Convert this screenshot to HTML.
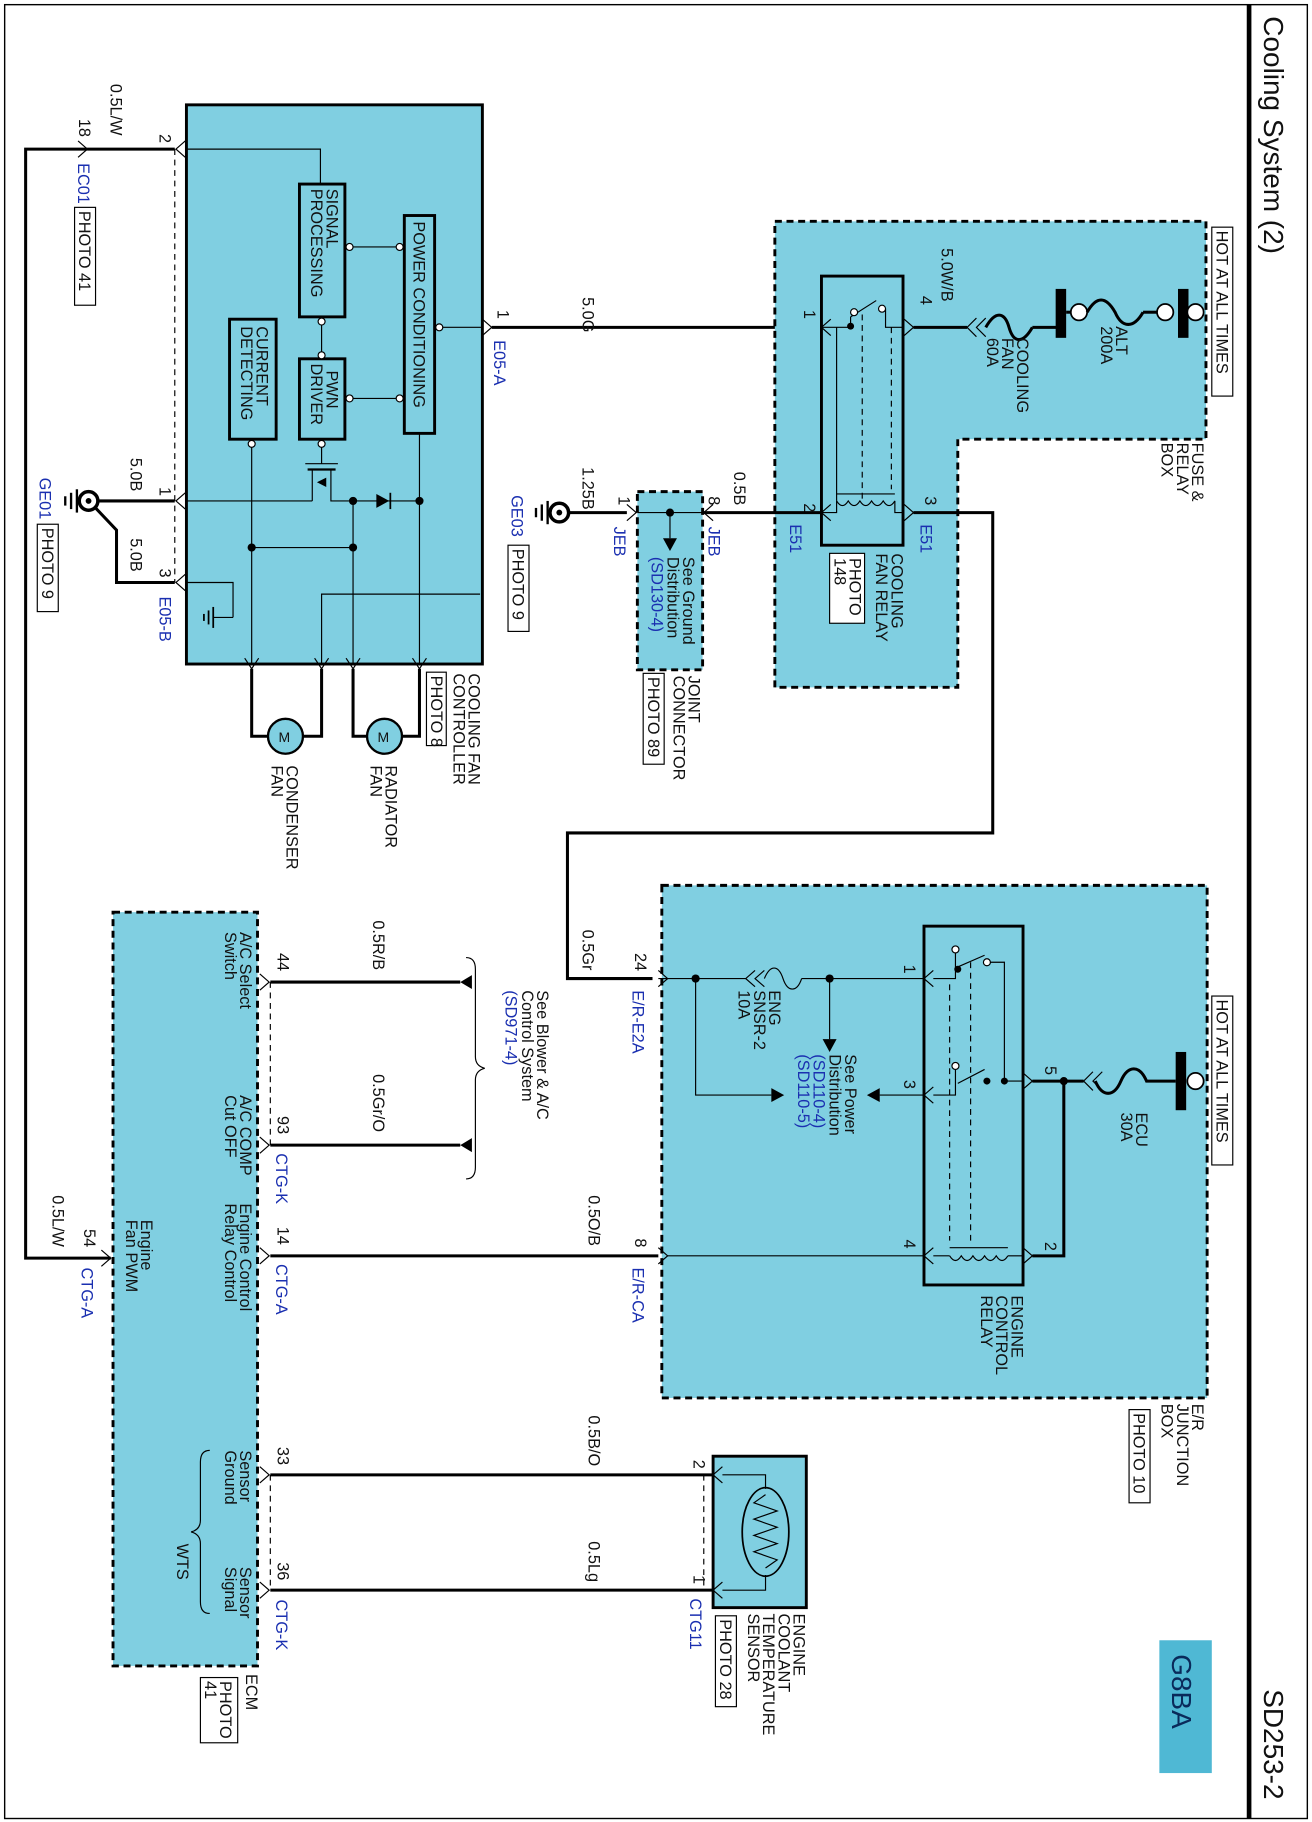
<!DOCTYPE html>
<html><head><meta charset="utf-8"><style>
html,body{margin:0;padding:0;background:#fff}
svg{display:block}
text{font-family:"Liberation Sans",sans-serif;font-size:14px;fill:#111}
.b{fill:#1a2fb0}
.w{stroke:#000;stroke-width:2.6;fill:none}
.t{stroke:#000;stroke-width:1;fill:none}
.d{stroke:#000;stroke-width:1;fill:none;stroke-dasharray:5,4}
.bx{fill:#80cfe1;stroke:#000;stroke-width:2.5}
.dbx{fill:#80cfe1;stroke:#000;stroke-width:2.5;stroke-dasharray:6,4}
.ib{fill:none;stroke:#000;stroke-width:2.5}
.pb{fill:#fff;stroke:#000;stroke-width:1}
</style></head><body>
<svg width="1312" height="1822" viewBox="0 0 1126 1564" preserveAspectRatio="none" xmlns="http://www.w3.org/2000/svg">
<rect x="4" y="4" width="1118" height="1557" fill="none" stroke="#000" stroke-width="1.2"/>
<line x1="1072" y1="4" x2="1072" y2="1561" stroke="#000" stroke-width="4"/>
<text transform="translate(1085,14) rotate(90)" style="font-size:24px">Cooling System (2)</text>
<text transform="translate(1085,1450) rotate(90)" style="font-size:24px">SD253-2</text>
<rect x="995" y="1408" width="45" height="114" fill="#4fb8d4"/>
<text transform="translate(1006,1420) rotate(90)" style="font-size:24px;fill:#0a2a5a">G8BA</text>

<!-- Cooling fan controller -->
<rect class="bx" x="160" y="90" width="254" height="480"/>
<rect class="ib" x="257" y="158" width="39" height="114"/>
<text transform="translate(280,162) rotate(90)">SIGNAL</text>
<text transform="translate(267,162) rotate(90)">PROCESSING</text>
<rect class="ib" x="347" y="185" width="26" height="187"/>
<text transform="translate(355,190) rotate(90)">POWER CONDITIONING</text>
<rect class="ib" x="257" y="308" width="39" height="69"/>
<text transform="translate(280,318) rotate(90)">PWN</text>
<text transform="translate(267,312) rotate(90)">DRIVER</text>
<rect class="ib" x="197" y="274" width="40" height="103"/>
<text transform="translate(220,280) rotate(90)">CURRENT</text>
<text transform="translate(207,280) rotate(90)">DETECTING</text>
<polyline class="t" points="160,128 275,128 275,158"/>
<line class="t" x1="300" y1="212" x2="343" y2="212"/><circle cx="300" cy="212" r="3" class="pb"/><circle cx="343" cy="212" r="3" class="pb"/>
<line class="t" x1="276" y1="276" x2="276" y2="305"/><circle cx="276" cy="276" r="3" class="pb"/><circle cx="276" cy="305" r="3" class="pb"/>
<line class="t" x1="300" y1="342" x2="343" y2="342"/><circle cx="300" cy="342" r="3" class="pb"/><circle cx="343" cy="342" r="3" class="pb"/>
<line class="t" x1="377" y1="281" x2="414" y2="281"/><circle cx="377" cy="281" r="3" class="pb"/>
<line class="t" x1="216" y1="381" x2="216" y2="570"/><circle cx="216" cy="381" r="3" class="pb"/>
<line class="t" x1="276" y1="381" x2="276" y2="398"/><circle cx="276" cy="381" r="3" class="pb"/>
<line class="t" x1="360" y1="372" x2="360" y2="570"/>
<line x1="262" y1="398" x2="290" y2="398" stroke="#000" stroke-width="1"/>
<line x1="264" y1="403" x2="288" y2="403" stroke="#000" stroke-width="2"/>
<polyline class="t" points="268,403 268,430"/><polyline class="t" points="284,403 284,430 360,430"/>
<polygon points="272,414 280,410 280,418" fill="#000"/>
<polygon points="323,424 323,436 334,430" fill="#000"/><line x1="335" y1="423" x2="335" y2="437" stroke="#000" stroke-width="1.5"/>
<line class="t" x1="160" y1="430" x2="268" y2="430"/>
<circle cx="360" cy="430" r="3.5" fill="#000"/>
<line class="t" x1="303" y1="430" x2="303" y2="570"/><circle cx="303" cy="430" r="3.5" fill="#000"/>
<line class="t" x1="216" y1="470" x2="303" y2="470"/><circle cx="216" cy="470" r="3.5" fill="#000"/><circle cx="303" cy="470" r="3.5" fill="#000"/>
<polyline class="t" points="276,570 276,510 412,510"/>
<polyline class="t" points="160,500 200,500 200,530"/>
<line x1="183" y1="521" x2="183" y2="539" stroke="#000" stroke-width="1.5"/>
<line x1="179" y1="524" x2="179" y2="536" stroke="#000" stroke-width="1.5"/>
<line x1="175" y1="527" x2="175" y2="533" stroke="#000" stroke-width="1.5"/>
<line class="t" x1="183" y1="530" x2="200" y2="530"/>
<g class="t">
<polyline points="210,565 216,574 222,565"/><polyline points="270,565 276,574 282,565"/>
<polyline points="297,565 303,574 309,565"/><polyline points="354,565 360,574 366,565"/>
</g>
<polyline class="w" points="216,574 216,632 230,632"/><polyline class="w" points="276,574 276,632 260,632"/>
<polyline class="w" points="303,574 303,632 315,632"/><polyline class="w" points="360,574 360,632 345,632"/>
<circle cx="245" cy="632" r="15" fill="#80cfe1" stroke="#000" stroke-width="2"/><text x="239" y="637" style="font-size:12px">M</text>
<circle cx="330" cy="632" r="15" fill="#80cfe1" stroke="#000" stroke-width="2"/><text x="324" y="637" style="font-size:12px">M</text>
<text transform="translate(402,578) rotate(90)">COOLING FAN</text>
<text transform="translate(389,578) rotate(90)">CONTROLLER</text>
<rect x="366" y="577" width="17" height="63" class="pb"/><text transform="translate(370,580) rotate(90)">PHOTO 8</text>
<text transform="translate(331,657) rotate(90)">RADIATOR</text>
<text transform="translate(318,657) rotate(90)">FAN</text>
<text transform="translate(246,657) rotate(90)">CONDENSER</text>
<text transform="translate(233,657) rotate(90)">FAN</text>

<line class="d" x1="150" y1="128" x2="150" y2="500"/>
<polyline class="w" points="75,128 22,128 22,1080 95,1080"/>
<line class="w" x1="75" y1="128" x2="150" y2="128"/>
<polyline class="t" points="67,121 75,128 67,135"/><polyline class="t" points="159,121 151,128 159,135"/>
<text transform="translate(95,72) rotate(90)">0.5L/W</text>
<text transform="translate(68,102) rotate(90)">18</text>
<text class="b" transform="translate(67,140) rotate(90)">EC01</text>
<rect x="64" y="178" width="18" height="84" class="pb"/><text transform="translate(68,181) rotate(90)">PHOTO 41</text>
<text transform="translate(137,115) rotate(90)">2</text>
<line class="w" x1="85" y1="430" x2="150" y2="430"/>
<polyline class="w" points="82,436 100,455 100,500 150,500"/>
<polyline class="t" points="159,423 151,430 159,437"/><polyline class="t" points="159,493 151,500 159,507"/>
<circle cx="76" cy="430" r="8" fill="#fff" stroke="#000" stroke-width="3"/><circle cx="76" cy="430" r="2.5" fill="#000"/>
<line x1="66" y1="420" x2="66" y2="440" stroke="#000" stroke-width="2"/>
<line x1="61" y1="423" x2="61" y2="437" stroke="#000" stroke-width="2"/>
<line x1="56" y1="426" x2="56" y2="434" stroke="#000" stroke-width="2"/>
<text transform="translate(112,393) rotate(90)">5.0B</text>
<text transform="translate(137,418) rotate(90)">1</text>
<text transform="translate(112,462) rotate(90)">5.0B</text>
<text transform="translate(137,488) rotate(90)">3</text>
<text class="b" transform="translate(137,512) rotate(90)">E05-B</text>
<text class="b" transform="translate(34,410) rotate(90)">GE01</text>
<rect x="32" y="450" width="18" height="75" class="pb"/><text transform="translate(36,453) rotate(90)">PHOTO 9</text>
<polyline class="t" points="414,274 422,281 414,288"/>
<text transform="translate(427,266) rotate(90)">1</text>
<text class="b" transform="translate(424,292) rotate(90)">E05-A</text>
<line class="w" x1="422" y1="281" x2="705" y2="281"/>
<text transform="translate(500,255) rotate(90)">5.0G</text>

<!-- Fuse & relay box -->
<polygon class="dbx" points="665,190 1035,190 1035,377 822,377 822,590 665,590"/>
<rect class="ib" x="705" y="237" width="70" height="231"/>
<polyline class="t" points="705,281 730,281 730,272"/><circle cx="730" cy="280" r="3" fill="#000"/>
<line class="t" x1="730" y1="272" x2="752" y2="258"/><circle cx="757" cy="265" r="3" class="pb"/><circle cx="733" cy="268" r="3" class="pb"/>
<polyline class="t" points="760,265 760,281 775,281"/>
<line class="d" x1="740" y1="270" x2="740" y2="430"/>
<polyline class="t" points="718,281 718,430"/>
<polyline class="t" points="705,440 718,440 718,430"/>
<path class="t" d="M718,430 q5,8 10,0 q5,8 10,0 q5,8 10,0 q5,8 10,0 q5,8 10,0"/>
<line x1="718" y1="424" x2="768" y2="424" stroke="#000" stroke-width="1"/>
<polyline class="t" points="768,430 768,440 775,440"/>
<line class="d" x1="765" y1="281" x2="765" y2="420"/>
<polyline class="t" points="713,274 705,281 713,288"/><polyline class="t" points="713,433 705,440 713,447"/>
<polyline class="t" points="776,274 784,281 776,288"/><polyline class="t" points="776,433 784,440 776,447"/>
<line class="w" x1="784" y1="281" x2="830" y2="281"/>
<polyline class="t" points="838,273 830,281 838,289"/><polyline class="t" points="846,273 838,281 846,289"/>
<path class="w" d="M846,281 c8,-14 16,-14 20,0 c4,14 12,14 20,0" /><line class="w" x1="886" y1="281" x2="908" y2="281"/>
<rect x="906" y="248" width="9" height="42" fill="#000"/>
<line class="w" x1="915" y1="268" x2="920" y2="268"/>
<circle cx="926" cy="268" r="7" fill="#fff" stroke="#000" stroke-width="1.5"/>
<path class="w" d="M933,268 c8,-14 16,-14 24,0 c6,14 16,14 24,0" /><line class="w" x1="981" y1="268" x2="994" y2="268"/>
<circle cx="1000" cy="268" r="7" fill="#fff" stroke="#000" stroke-width="1.5"/>
<rect x="1011" y="248" width="9" height="42" fill="#000"/>
<circle cx="1026" cy="268" r="7" fill="#fff" stroke="#000" stroke-width="1.5"/>
<text transform="translate(808,213) rotate(90)">5.0W/B</text>
<text transform="translate(790,254) rotate(90)">4</text>
<text transform="translate(690,266) rotate(90)">1</text>
<text transform="translate(873,290) rotate(90)">COOLING</text>
<text transform="translate(860,290) rotate(90)">FAN</text>
<text transform="translate(847,290) rotate(90)">60A</text>
<text transform="translate(958,280) rotate(90)">ALT</text>
<text transform="translate(945,280) rotate(90)">200A</text>
<rect x="1040" y="195" width="18" height="145" class="pb"/><text transform="translate(1044,198) rotate(90)">HOT AT ALL TIMES</text>
<text transform="translate(1023,380) rotate(90)">FUSE &amp;</text>
<text transform="translate(1010,380) rotate(90)">RELAY</text>
<text transform="translate(997,380) rotate(90)">BOX</text>
<text transform="translate(765,475) rotate(90)">COOLING</text>
<text transform="translate(752,475) rotate(90)">FAN RELAY</text>
<rect x="712" y="475" width="30" height="60" class="pb"/>
<text transform="translate(729,479) rotate(90)">PHOTO</text>
<text transform="translate(716,479) rotate(90)">148</text>
<text transform="translate(690,432) rotate(90)">2</text>
<text class="b" transform="translate(678,450) rotate(90)">E51</text>
<text transform="translate(794,426) rotate(90)">3</text>
<text class="b" transform="translate(790,450) rotate(90)">E51</text>
<polyline class="w" points="784,440 852,440 852,715 487,715 487,840 560,840"/>
<line class="w" x1="603" y1="440" x2="705" y2="440"/>
<text transform="translate(630,405) rotate(90)">0.5B</text>

<!-- JEB -->
<rect class="dbx" x="547" y="422" width="56" height="153"/>
<line class="t" x1="547" y1="440" x2="603" y2="440"/><circle cx="575" cy="440" r="3.5" fill="#000"/>
<line class="t" x1="575" y1="440" x2="575" y2="462"/><polygon points="569,462 581,462 575,473" fill="#000"/>
<polyline class="t" points="612,433 604,440 612,447"/><polyline class="t" points="538,433 546,440 538,447"/>
<text transform="translate(586,478) rotate(90)">See Ground</text>
<text transform="translate(573,478) rotate(90)">Distribution</text>
<text class="b" transform="translate(559,478) rotate(90)">(SD130-4)</text>
<text transform="translate(608,426) rotate(90)">8</text>
<text class="b" transform="translate(608,452) rotate(90)">JEB</text>
<text transform="translate(531,426) rotate(90)">1</text>
<text class="b" transform="translate(527,452) rotate(90)">JEB</text>
<line class="w" x1="488" y1="440" x2="538" y2="440"/>
<circle cx="480" cy="440" r="8" fill="#fff" stroke="#000" stroke-width="3"/><circle cx="480" cy="440" r="2.5" fill="#000"/>
<line x1="470" y1="430" x2="470" y2="450" stroke="#000" stroke-width="2"/>
<line x1="465" y1="433" x2="465" y2="447" stroke="#000" stroke-width="2"/>
<line x1="460" y1="436" x2="460" y2="444" stroke="#000" stroke-width="2"/>
<text transform="translate(500,401) rotate(90)">1.25B</text>
<text class="b" transform="translate(439,425) rotate(90)">GE03</text>
<rect x="436" y="468" width="18" height="74" class="pb"/><text transform="translate(440,471) rotate(90)">PHOTO 9</text>
<text transform="translate(591,580) rotate(90)">JOINT</text>
<text transform="translate(578,580) rotate(90)">CONNECTOR</text>
<rect x="552" y="578" width="18" height="78" class="pb"/><text transform="translate(556,581) rotate(90)">PHOTO 89</text>

<!-- E/R junction box -->
<rect class="dbx" x="568" y="760" width="468" height="440"/>
<rect class="ib" x="793" y="795" width="85" height="308"/>
<rect x="1040" y="855" width="18" height="145" class="pb"/><text transform="translate(1044,858) rotate(90)">HOT AT ALL TIMES</text>
<rect x="1009" y="903" width="9" height="50" fill="#000"/>
<circle cx="1026" cy="928" r="7" fill="#fff" stroke="#000" stroke-width="1.5"/>
<path class="w" d="M1009,928 l-25,0 c-6,-14 -16,-14 -22,0 c-6,14 -16,14 -22,0"/>
<polyline class="t" points="946,920 938,928 946,936"/><polyline class="t" points="938,920 930,928 938,936"/>
<line class="w" x1="930" y1="928" x2="886" y2="928"/>
<circle cx="913" cy="928" r="3.5" fill="#000"/>
<polyline class="w" points="913,928 913,1078 886,1078"/>
<text transform="translate(975,955) rotate(90)">ECU</text>
<text transform="translate(962,955) rotate(90)">30A</text>
<text transform="translate(897,915) rotate(90)">5</text>
<text transform="translate(897,1066) rotate(90)">2</text>
<polyline class="t" points="878,921 886,928 878,935"/><polyline class="t" points="878,1071 886,1078 878,1085"/>
<polyline class="t" points="801,833 793,840 801,847"/><polyline class="t" points="801,933 793,940 801,947"/><polyline class="t" points="801,1071 793,1078 801,1085"/>
<polyline class="t" points="801,840 820,840 820,815"/><circle cx="820" cy="815" r="3" class="pb"/>
<line class="t" x1="822" y1="830" x2="845" y2="820"/><circle cx="847" cy="826" r="3" class="pb"/><circle cx="822" cy="832" r="3" fill="#000"/>
<polyline class="t" points="850,826 862,826 862,928 878,928"/>
<polyline class="t" points="801,940 820,940 820,915"/><circle cx="820" cy="915" r="3" class="pb"/>
<line class="t" x1="822" y1="930" x2="845" y2="918"/><circle cx="847" cy="928" r="3" fill="#000"/><circle cx="862" cy="928" r="3" fill="#000"/>
<line class="d" x1="833" y1="826" x2="833" y2="1065"/>
<line class="d" x1="815" y1="845" x2="815" y2="1065"/>
<polyline class="t" points="801,1078 815,1078"/>
<path class="t" d="M815,1078 q5,8 10,0 q5,8 10,0 q5,8 10,0 q5,8 10,0 q5,8 10,0"/>
<line x1="815" y1="1071" x2="865" y2="1071" stroke="#000" stroke-width="1"/>
<polyline class="t" points="865,1078 878,1078"/>
<text transform="translate(776,828) rotate(90)">1</text>
<text transform="translate(776,927) rotate(90)">3</text>
<text transform="translate(776,1064) rotate(90)">4</text>
<text transform="translate(868,1112) rotate(90)">ENGINE</text>
<text transform="translate(855,1112) rotate(90)">CONTROL</text>
<text transform="translate(842,1112) rotate(90)">RELAY</text>
<line class="t" x1="565" y1="840" x2="640" y2="840"/>
<polyline class="t" points="648,833 640,840 648,847"/><polyline class="t" points="656,833 648,840 656,847"/>
<path class="t" d="M656,840 c5,-12 12,-12 16,0 c4,12 12,12 16,0"/>
<polyline class="t" points="688,840 793,840"/>
<circle cx="597" cy="840" r="3.5" fill="#000"/><circle cx="712" cy="840" r="3.5" fill="#000"/>
<line class="t" x1="712" y1="840" x2="712" y2="892"/><polygon points="706,892 718,892 712,903" fill="#000"/>
<polyline class="t" points="597,840 597,940 662,940"/><polygon points="662,934 662,946 673,940" fill="#000"/>
<line class="t" x1="755" y1="940" x2="793" y2="940"/><polygon points="755,934 755,946 744,940" fill="#000"/>
<polyline class="t" points="565,833 573,840 565,847"/>
<polyline class="t" points="565,1071 573,1078 565,1085"/>
<line class="t" x1="573" y1="1078" x2="793" y2="1078"/>
<text transform="translate(660,850) rotate(90)">ENG</text>
<text transform="translate(647,850) rotate(90)">SNSR-2</text>
<text transform="translate(634,850) rotate(90)">10A</text>
<text transform="translate(725,905) rotate(90)">See Power</text>
<text transform="translate(712,905) rotate(90)">Distribution</text>
<text class="b" transform="translate(698,905) rotate(90)">(SD110-4)</text>
<text class="b" transform="translate(685,905) rotate(90)">(SD110-5)</text>
<text transform="translate(545,818) rotate(90)">24</text>
<text class="b" transform="translate(543,850) rotate(90)">E/R-E2A</text>
<text transform="translate(545,1063) rotate(90)">8</text>
<text class="b" transform="translate(543,1088) rotate(90)">E/R-CA</text>
<text transform="translate(500,798) rotate(90)">0.5Gr</text>
<text transform="translate(1023,1205) rotate(90)">E/R</text>
<text transform="translate(1010,1205) rotate(90)">JUNCTION</text>
<text transform="translate(997,1205) rotate(90)">BOX</text>
<rect x="969" y="1210" width="18" height="80" class="pb"/><text transform="translate(973,1213) rotate(90)">PHOTO 10</text>

<!-- ECM -->
<rect class="dbx" x="97" y="783" width="124" height="647"/>
<line class="d" x1="232" y1="843" x2="232" y2="983"/>
<line class="d" x1="232" y1="1266" x2="232" y2="1365"/>
<g class="t">
<polyline points="223,836 231,843 223,850"/><polyline points="223,976 231,983 223,990"/>
<polyline points="223,1071 231,1078 223,1085"/><polyline points="223,1259 231,1266 223,1273"/>
<polyline points="223,1358 231,1365 223,1372"/><polyline points="87,1073 95,1080 87,1087"/>
</g>
<line class="w" x1="232" y1="843" x2="395" y2="843"/><polygon points="395,837 395,849 405,843" fill="#000" transform="rotate(180 400 843)"/>
<line class="w" x1="232" y1="983" x2="395" y2="983"/><polygon points="395,977 395,989 405,983" fill="#000" transform="rotate(180 400 983)"/>
<path class="t" d="M400,822 q8,0 8,10 v75 q0,8 8,10 q-8,2 -8,10 v75 q0,10 -8,10" />
<line class="w" x1="232" y1="1078" x2="565" y2="1078"/>
<line class="w" x1="232" y1="1266" x2="612" y2="1266"/>
<line class="w" x1="232" y1="1365" x2="612" y2="1365"/>
<text transform="translate(461,850) rotate(90)">See Blower &amp; A/C</text>
<text transform="translate(448,850) rotate(90)">Control System</text>
<text class="b" transform="translate(434,850) rotate(90)">(SD971-4)</text>
<text transform="translate(320,790) rotate(90)">0.5R/B</text>
<text transform="translate(320,922) rotate(90)">0.5Gr/O</text>
<text transform="translate(505,1026) rotate(90)">0.5O/B</text>
<text transform="translate(505,1215) rotate(90)">0.5B/O</text>
<text transform="translate(505,1323) rotate(90)">0.5Lg</text>
<text transform="translate(45,1026) rotate(90)">0.5L/W</text>
<text transform="translate(238,818) rotate(90)">44</text>
<text transform="translate(238,958) rotate(90)">93</text>
<text class="b" transform="translate(237,990) rotate(90)">CTG-K</text>
<text transform="translate(238,1053) rotate(90)">14</text>
<text class="b" transform="translate(237,1085) rotate(90)">CTG-A</text>
<text transform="translate(238,1242) rotate(90)">33</text>
<text transform="translate(238,1341) rotate(90)">36</text>
<text class="b" transform="translate(237,1373) rotate(90)">CTG-K</text>
<text transform="translate(72,1055) rotate(90)">54</text>
<text class="b" transform="translate(70,1088) rotate(90)">CTG-A</text>
<text transform="translate(206,800) rotate(90)">A/C Select</text>
<text transform="translate(193,800) rotate(90)">Switch</text>
<text transform="translate(206,940) rotate(90)">A/C COMP</text>
<text transform="translate(193,940) rotate(90)">Cut OFF</text>
<text transform="translate(206,1033) rotate(90)">Engine Control</text>
<text transform="translate(193,1033) rotate(90)">Relay Control</text>
<text transform="translate(121,1047) rotate(90)">Engine</text>
<text transform="translate(108,1047) rotate(90)">Fan PWM</text>
<text transform="translate(206,1245) rotate(90)">Sensor</text>
<text transform="translate(193,1245) rotate(90)">Ground</text>
<text transform="translate(206,1345) rotate(90)">Sensor</text>
<text transform="translate(193,1345) rotate(90)">Signal</text>
<text transform="translate(152,1325) rotate(90)">WTS</text>
<path class="t" d="M180,1245 q-8,0 -8,10 v50 q0,8 -8,10 q8,2 8,10 v50 q0,10 8,10"/>
<text transform="translate(211,1437) rotate(90)">ECM</text>
<rect x="172" y="1440" width="32" height="56" class="pb"/>
<text transform="translate(189,1443) rotate(90)">PHOTO</text>
<text transform="translate(176,1443) rotate(90)">41</text>

<!-- Coolant sensor -->
<rect class="bx" x="612" y="1250" width="80" height="130"/>
<line class="d" x1="604" y1="1266" x2="604" y2="1365"/>
<polyline class="t" points="620,1259 612,1266 620,1273"/><polyline class="t" points="620,1358 612,1365 620,1372"/>
<polyline class="t" points="620,1266 657,1266 657,1278"/>
<polyline class="t" points="620,1365 657,1365 657,1352"/>
<ellipse cx="657" cy="1315" rx="20" ry="38" fill="none" stroke="#000" stroke-width="1.5"/>
<polyline class="t" points="657,1283 647,1290 667,1297 647,1304 667,1311 647,1318 667,1325 647,1332 667,1339 657,1346"/>
<text transform="translate(595,1253) rotate(90)">2</text>
<text transform="translate(595,1352) rotate(90)">1</text>
<text class="b" transform="translate(592,1372) rotate(90)">CTG11</text>
<text transform="translate(681,1385) rotate(90)">ENGINE</text>
<text transform="translate(668,1385) rotate(90)">COOLANT</text>
<text transform="translate(655,1385) rotate(90)">TEMPERATURE</text>
<text transform="translate(642,1385) rotate(90)">SENSOR</text>
<rect x="614" y="1387" width="18" height="78" class="pb"/><text transform="translate(618,1390) rotate(90)">PHOTO 28</text>
</svg>
</body></html>
